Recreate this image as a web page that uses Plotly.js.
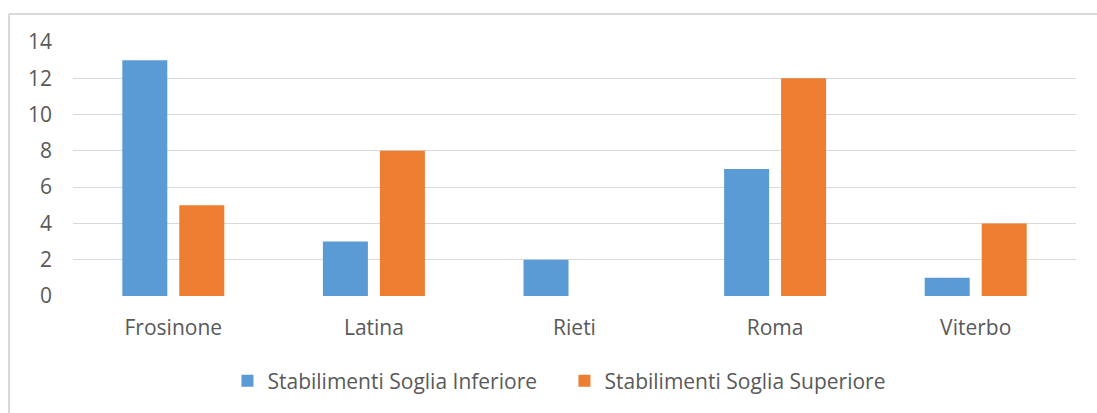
<!DOCTYPE html>
<html>
<head>
<meta charset="utf-8">
<script src="https://cdn.plot.ly/plotly-3.0.1.min.js"></script>
<style>
  html, body { margin: 0; padding: 0; background: #ffffff; }
  #chart { width: 1097px; height: 413px; }
</style>
</head>
<body>
<div id="chart"></div>
<script>
const categories = ["Frosinone", "Latina", "Rieti", "Roma", "Viterbo"];
const sogliaInferiore = [13, 3, 2, 7, 1];
const sogliaSuperiore = [5, 8, 0, 12, 4];
const seriesNames = ["Stabilimenti Soglia Inferiore", "Stabilimenti Soglia Superiore"];
const yTicks = [0, 2, 4, 6, 8, 10, 12, 14];

const FONT = "'Open Sans', 'Segoe UI', sans-serif";
const TXT = "#595959";
const GRID = "#D9D9D9";

const data = [
  { type: "bar", name: seriesNames[0], x: categories, y: sogliaInferiore,
    marker: { color: "#5B9BD5" }, hoverinfo: "none" },
  { type: "bar", name: seriesNames[1], x: categories, y: sogliaSuperiore,
    marker: { color: "#ED7D31" }, hoverinfo: "none" }
];

const layout = {
  width: 1097, height: 413,
  margin: { l: 73, r: 21, t: 42, b: 117, pad: 0 },
  paper_bgcolor: "#ffffff", plot_bgcolor: "#ffffff",
  font: { family: FONT, size: 21, color: TXT },
  barmode: "group",
  bargap: 0.432,
  bargroupgap: 0.21,
  showlegend: true,
  legend: {
    orientation: "h", x: 0.154, xanchor: "left", y: -0.335, yanchor: "middle",
    font: { family: FONT, size: 21, color: TXT }, itemgap: 0,
    entrywidth: 292, entrywidthmode: "pixels", traceorder: "normal"
  },
  xaxis: {
    type: "category", showgrid: false, zeroline: false, showline: false,
    ticks: "", tickfont: { family: FONT, size: 21, color: TXT }, ticklabelstandoff: 17
  },
  yaxis: {
    range: [0, 14], tickvals: yTicks, ticktext: yTicks.map(String),
    showgrid: true, gridcolor: GRID, gridwidth: 1, zeroline: false, showline: false,
    ticks: "", tickfont: { family: FONT, size: 21, color: TXT }, ticklabelstandoff: 20
  },
  shapes: [
    { type: "line", xref: "paper", yref: "paper", x0: -0.0638, x1: 1.1, y0: 1.1102, y1: 1.1102,
      line: { color: GRID, width: 2 }, layer: "below" },
    { type: "line", xref: "paper", yref: "paper", x0: -0.0638, x1: -0.0638, y0: 1.1102, y1: -0.6,
      line: { color: GRID, width: 2 }, layer: "below" }
  ]
};

Plotly.newPlot("chart", data, layout, { displayModeBar: false, staticPlot: true });
</script>
</body>
</html>
